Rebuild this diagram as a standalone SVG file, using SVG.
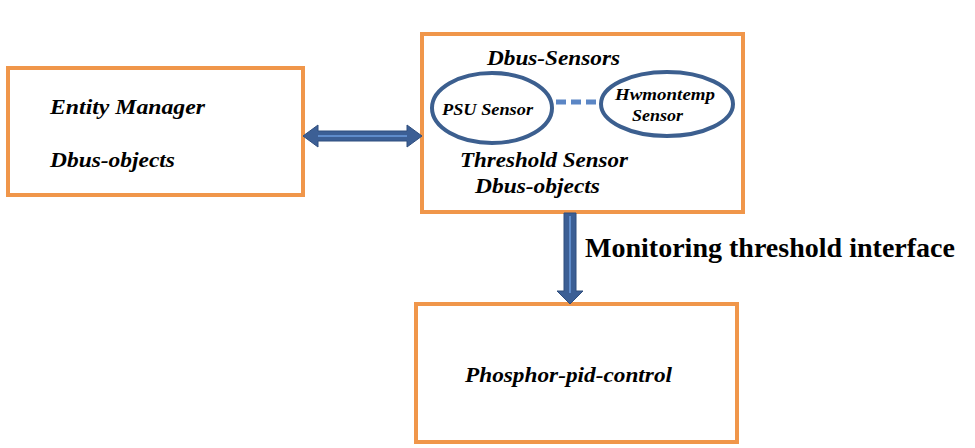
<svg xmlns="http://www.w3.org/2000/svg" width="975" height="448" viewBox="0 0 975 448">
<style>
.box{fill:#fff;stroke:#F0964A;stroke-width:4}
.ell{fill:#fff;stroke:#3C5F8F;stroke-width:4}
.t{font-family:"Liberation Serif",serif;font-weight:bold;font-style:italic;fill:#000}
.big{font-size:20px}
.sm{font-size:16px}
.lbl{font-family:"Liberation Serif",serif;font-weight:bold;font-size:27px;fill:#000}
.arr{fill:#3C5F95;stroke:#2F4E7E;stroke-width:1}
.hl{stroke:#5F8CCB;stroke-width:2}
</style>
<rect width="975" height="448" fill="#fff"/>
<g id="entity-manager">
<rect class="box" x="8" y="68" width="295" height="127"/>
<text class="t big" x="50" y="114" textLength="155" lengthAdjust="spacingAndGlyphs">Entity Manager</text>
<text class="t big" x="50" y="167" textLength="125" lengthAdjust="spacingAndGlyphs">Dbus-objects</text>
</g>
<g id="dbus-sensors">
<rect class="box" x="422" y="34" width="321" height="178"/>
<text class="t big" x="487" y="65" textLength="133" lengthAdjust="spacingAndGlyphs">Dbus-Sensors</text>
<text class="t big" x="460" y="167" textLength="168" lengthAdjust="spacingAndGlyphs">Threshold Sensor</text>
<text class="t big" x="475" y="193" textLength="125" lengthAdjust="spacingAndGlyphs">Dbus-objects</text>
</g>
<g id="psu-sensor">
<ellipse class="ell" cx="492" cy="108" rx="60" ry="35"/>
<text class="t sm" x="442" y="115" textLength="91" lengthAdjust="spacingAndGlyphs">PSU Sensor</text>
</g>
<g id="hwmontemp-sensor">
<ellipse class="ell" cx="667" cy="104" rx="66" ry="32"/>
<text class="t sm" x="615" y="100" textLength="100" lengthAdjust="spacingAndGlyphs">Hwmontemp</text>
<text class="t sm" x="632" y="121" textLength="51" lengthAdjust="spacingAndGlyphs">Sensor</text>
</g>
<g id="phosphor-pid-control">
<rect class="box" x="416" y="304" width="321" height="138"/>
<text class="t big" x="465" y="382" textLength="207" lengthAdjust="spacingAndGlyphs">Phosphor-pid-control</text>
</g>
<g id="connectors">
<line x1="556" y1="102" x2="600" y2="102" stroke="#5B86C5" stroke-width="5" stroke-dasharray="10,5"/>
<path class="arr" d="M303,136 L318,125 L318,131 L407,131 L407,125 L422,136 L407,147 L407,141 L318,141 L318,147 Z"/>
<line class="hl" x1="318" y1="136" x2="407" y2="136"/>
<path class="arr" d="M564,213 L576,213 L576,291 L583,291 L570,304 L557,291 L564,291 Z"/>
<line class="hl" x1="570" y1="216" x2="570" y2="293"/>
<text class="lbl" x="585" y="257" textLength="370" lengthAdjust="spacingAndGlyphs">Monitoring threshold interface</text>
</g>
</svg>
